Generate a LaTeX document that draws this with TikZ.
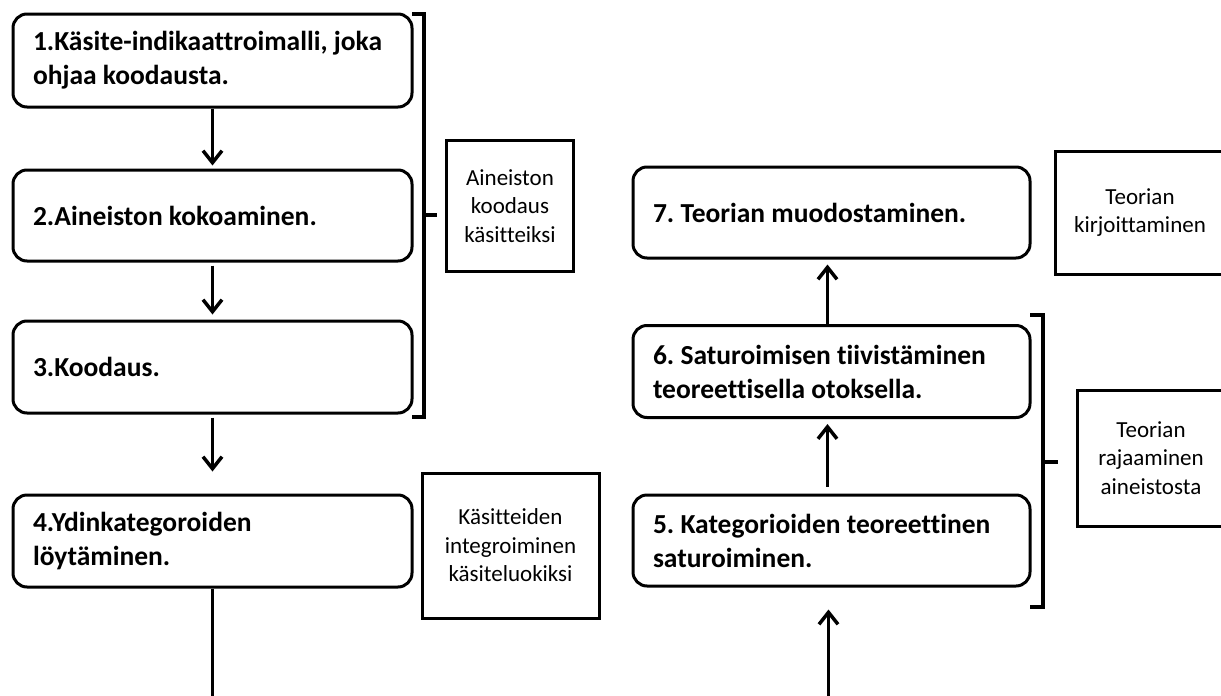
\documentclass[tikz,border=0pt]{standalone}
\usepackage{fontspec}
\setmainfont{Carlito}[Ligatures=NoCommon]
\frenchspacing
\usetikzlibrary{arrows.meta}
\begin{document}
\begin{tikzpicture}[x=1pt,y=-1pt,
  stepbox/.style={draw, line width=3pt, rounded corners=14pt, minimum width=399pt,
    text width=359pt, inner xsep=20pt, align=flush left,
    font=\fontsize{27.5}{34}\selectfont\bfseries},
  notebox/.style={draw, line width=3pt, align=center,
    font=\fontsize{23}{28.5}\selectfont},
  flow/.style={line width=3.5pt, -{Straight Barb[length=12pt,width=19pt,line width=3.5pt]}},
  brace/.style={line width=4pt}]
\useasboundingbox (0,0) rectangle (1221,696);
\clip (0,0) rectangle (1221,696);

% process steps, left column
\node[stepbox, minimum height=93pt] (b1) at (212.5,60.5) {1.Käsite-indikaattroimalli, joka\\ohjaa koodausta.};
\node[stepbox, minimum height=91pt] (b2) at (212.5,215.5) {2.Aineiston kokoaminen.};
\node[stepbox, minimum height=92pt] (b3) at (212.5,367) {3.Koodaus.};
\node[stepbox, minimum height=92pt] (b4) at (212.5,541) {4.Ydinkategoroiden\\löytäminen.};

% process steps, right column
\node[stepbox, minimum width=397pt, text width=357pt, minimum height=91pt] (b5) at (831.5,540.5) {5. Kategorioiden teoreettinen\\saturoiminen.};
\node[stepbox, minimum width=397pt, text width=357pt, minimum height=92pt] (b6) at (831.5,371.5) {6. Saturoimisen tiivistäminen\\teoreettisella otoksella.};
\node[stepbox, minimum width=397pt, text width=357pt, minimum height=91pt] (b7) at (831.5,212.5) {7. Teorian muodostaminen.};

% phase notes
\node[notebox, minimum width=127pt, minimum height=131pt] (s1) at (510,206) {Aineiston\\koodaus\\käsitteiksi};
\node[notebox, minimum width=177pt, minimum height=145pt] (s2) at (510.5,545.5) {Käsitteiden\\integroiminen\\käsiteluokiksi};
\node[notebox, minimum width=170pt, minimum height=123pt] (s3) at (1140,212.5) {Teorian\\kirjoittaminen};
\node[notebox, minimum width=148pt, minimum height=136pt] (s4) at (1151,458) {Teorian\\rajaaminen\\aineistosta};

% connectors
\coordinate (leftend) at (212.5,700);
\coordinate (rightstart) at (828.5,700);
\draw[flow, shorten >=3pt] (b1.south) -- (b2.north);
\draw[flow, shorten <=3pt, shorten >=5pt] (b2.south) -- (b3.north);
\draw[flow, shorten <=3pt, shorten >=22pt] (b3.south) -- (b4.north);
\draw[line width=3.5pt] (b4.south) -- (leftend);
\draw[flow, shorten >=22pt] (rightstart) -- (rightstart |- b5.south);
\draw[flow, shorten <=7pt, shorten >=5pt] ([xshift=-4pt]b5.north) -- ([xshift=-4pt]b6.south);
\draw[flow, shorten >=5pt] ([xshift=-4pt]b6.north) -- ([xshift=-4pt]b7.south);

% brackets grouping the steps
\draw[brace] (412,14) -- (424,14) -- (424,417) -- (412,417);
\draw[brace] (424,215) -- (437,215);
\draw[brace] (1030,315) -- (1043,315) -- (1043,607) -- (1030,607);
\draw[brace] (1043,462) -- (1058,462);
\end{tikzpicture}
\end{document}
